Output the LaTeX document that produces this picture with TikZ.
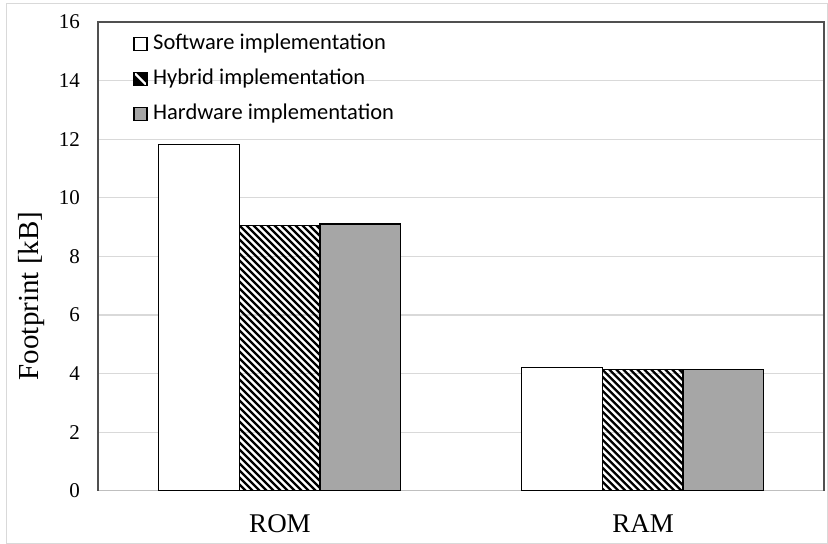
\documentclass[tikz,border=0pt]{standalone}
\usepackage{fontspec}
\setmainfont{Liberation Serif}
\newfontfamily\legfont{Carlito}
\definecolor{gridc}{HTML}{D9D9D9}
\definecolor{framec}{HTML}{505050}
\definecolor{axisc}{HTML}{BFBFBF}
\definecolor{hwc}{HTML}{A6A6A6}
\tikzset{
  barbox/.style={draw=black, line width=1.4bp},
  ticklab/.style={anchor=east, inner sep=0pt, font=\fontsize{21bp}{24bp}\selectfont},
  catlab/.style={inner sep=0pt, font=\fontsize{27bp}{30bp}\selectfont},
  leglab/.style={anchor=west, inner sep=0pt, font=\legfont\fontsize{22.5bp}{26bp}\selectfont},
  hatchline/.style={line width=2.3bp, black}
}
\newcommand\hatchrect[4]{%
  \begin{scope}
    \clip (#1,#3) rectangle (#2,#4);
    \foreach \k in {-45,...,14} \draw[hatchline] ({#1+\k*7},#3) -- ++(300,300);
  \end{scope}
  \draw[barbox] (#1,#3) rectangle (#2,#4);
}
\begin{document}
\begin{tikzpicture}[x=1bp,y=-1bp]
\useasboundingbox (0,0) rectangle (828,544);
\fill[white] (0,0) rectangle (828,544);
% outer chart border
\draw[gridc, line width=1bp] (6,4) rectangle (827,543);
% gridlines
\foreach \v in {2,4,...,14}
  \draw[gridc, line width=1.2bp] (98,{490.7-29.29*\v}) -- (824,{490.7-29.29*\v});
% bottom axis
\draw[axisc, line width=1.5bp] (98,490.7) -- (824,490.7);
% tick labels
\foreach \v in {0,2,...,16}
  \node[ticklab] (tick\v) at (80,{490.7-29.29*\v}) {\v};
% ROM bars
\draw[barbox, fill=white] (158.5,144.8) rectangle (239.2,490.7);
\hatchrect{239.2}{319.8}{225.3}{490.7}
\draw[barbox, fill=hwc] (319.8,224.2) rectangle (400.5,490.7);
% RAM bars
\draw[barbox, fill=white] (521.5,367.7) rectangle (602.2,490.7);
\hatchrect{602.2}{682.8}{369.4}{490.7}
\draw[barbox, fill=hwc] (682.8,369.4) rectangle (763.5,490.7);
% plot frame
\draw[framec, line width=1.4bp] (98,490.7) -- (98,22) -- (824,22) -- (824,490.7);
% category labels
\node[catlab] (rom) at (280,524) {ROM};
\node[catlab] (ram) at (643,524) {RAM};
% y axis label
\node[catlab, rotate=90, font=\fontsize{29bp}{32bp}\selectfont] (ylab) at (32,296) {Footprint [kB]};
% legend
\draw[black, line width=1.2bp, fill=white] (134,37.5) rectangle (147,50.5);
\node[leglab] (leg1) at (153,44) {Software implementation};
\begin{scope}
  \clip (134,72.5) rectangle (147,85.5);
  \fill[black] (134,72.5) rectangle (147,85.5);
  \draw[white, line width=2.4bp] (132,70.5) -- (149,87.5);
\end{scope}
\draw[black, line width=1.2bp] (134,72.5) rectangle (147,85.5);
\node[leglab] (leg2) at (153,79) {Hybrid implementation};
\draw[black, line width=1.2bp, fill=hwc] (134,107.5) rectangle (147,120.5);
\node[leglab] (leg3) at (153,114) {Hardware implementation};
\end{tikzpicture}
\end{document}
